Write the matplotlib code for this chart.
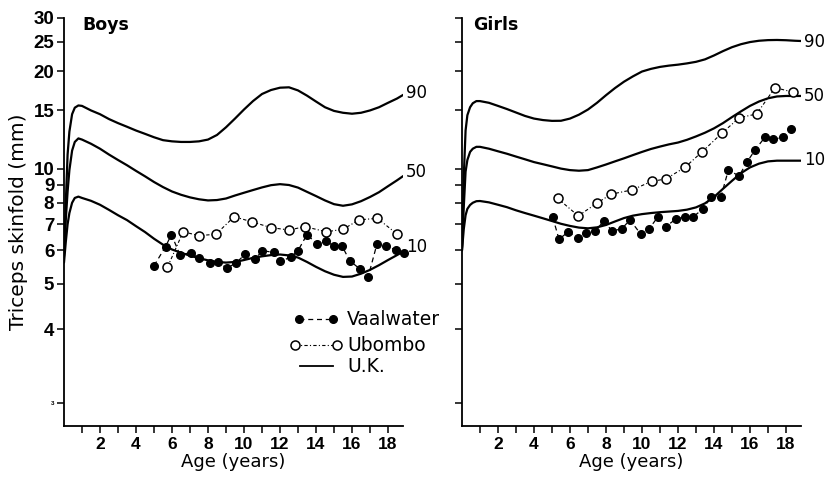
import numpy as np
import matplotlib
matplotlib.use('Agg')
import matplotlib.pyplot as plt
from matplotlib.ticker import NullLocator

# U.K. centile curves
curve_age = [0, 0.1, 0.2, 0.3, 0.45, 0.6, 0.8,
             1.0, 1.5, 2.0, 2.5, 3.0, 3.5, 4.0, 4.5, 5.0, 5.5,
             6.0, 6.5, 7.0, 7.5, 8.0, 8.5, 9.0, 9.5, 10.0, 10.5,
             11.0, 11.5, 12.0, 12.5, 13.0, 13.5, 14.0, 14.5, 15.0, 15.5,
             16.0, 16.5, 17.0, 17.5, 18.0, 18.5, 18.85]

boys_p90 = [5.9, 8.0, 11.0, 12.9, 14.6, 15.3, 15.55,
            15.5, 15.0, 14.6, 14.1, 13.7, 13.35, 13.0, 12.7, 12.4, 12.15,
            12.05, 12.0, 12.0, 12.05, 12.2, 12.6, 13.3, 14.15, 15.1, 16.05,
            16.9, 17.4, 17.7, 17.75, 17.35, 16.7, 16.0, 15.35, 14.95, 14.75,
            14.65, 14.75, 15.0, 15.35, 15.85, 16.35, 16.8]
boys_p50 = [5.8, 7.2, 8.6, 9.9, 11.3, 12.0, 12.3,
            12.2, 11.85, 11.45, 11.0, 10.6, 10.23, 9.85, 9.5, 9.15, 8.85,
            8.6, 8.42, 8.28, 8.18, 8.12, 8.14, 8.22, 8.38, 8.53, 8.68,
            8.83, 8.96, 9.02, 8.97, 8.82, 8.58, 8.35, 8.12, 7.93, 7.85,
            7.92, 8.08, 8.3, 8.56, 8.9, 9.25, 9.52]
boys_p10 = [5.6, 6.3, 7.0, 7.5, 8.0, 8.25, 8.32,
            8.25, 8.1, 7.9, 7.65, 7.4, 7.18, 6.92, 6.68, 6.42, 6.2,
            6.03, 5.92, 5.82, 5.74, 5.67, 5.62, 5.6, 5.62, 5.68, 5.75,
            5.8, 5.84, 5.86, 5.83, 5.76, 5.62, 5.47, 5.34, 5.24, 5.18,
            5.19, 5.27, 5.38, 5.52, 5.68, 5.84, 5.96]

girls_p90 = [6.1, 9.5, 13.0, 14.5, 15.35, 15.8, 16.05,
             16.05, 15.85, 15.5, 15.15, 14.78, 14.42, 14.15, 14.0, 13.92, 13.93,
             14.15, 14.55, 15.1, 15.85, 16.75, 17.65, 18.5, 19.25, 19.95, 20.35,
             20.65, 20.85, 21.0, 21.2, 21.45, 21.85, 22.5, 23.25, 23.95, 24.5,
             24.9, 25.15, 25.27, 25.3, 25.25, 25.15, 25.1]
girls_p50 = [6.0, 7.8, 9.8, 10.6, 11.2, 11.45, 11.6,
             11.6, 11.45, 11.25, 11.06, 10.85, 10.65, 10.45, 10.3, 10.15, 10.0,
             9.9, 9.86, 9.9, 10.08, 10.28, 10.5, 10.72, 10.96, 11.2, 11.43,
             11.62, 11.8, 11.95, 12.18, 12.47, 12.8, 13.2, 13.7, 14.3, 14.9,
             15.5, 16.0, 16.38, 16.6, 16.66, 16.66, 16.66]
girls_p10 = [6.0, 6.8, 7.4, 7.7, 7.89, 8.0, 8.08,
             8.09, 8.02, 7.9, 7.78, 7.63, 7.5, 7.38, 7.26, 7.14, 7.02,
             6.93, 6.86, 6.83, 6.87, 6.97, 7.12, 7.27, 7.38, 7.45, 7.5,
             7.54, 7.57, 7.6, 7.66, 7.77, 7.97, 8.3, 8.75, 9.22, 9.7,
             10.08, 10.34, 10.5, 10.55, 10.55, 10.55, 10.55]

# Survey means
boys_vaal_age = [5.0, 5.64, 5.97, 6.44, 7.03, 7.49, 8.10, 8.53, 9.06, 9.58, 10.08, 10.60,
                 11.02, 11.65, 12.02, 12.60, 13.0, 13.5, 14.08, 14.58, 14.98, 15.45, 15.87,
                 16.43, 16.89, 17.39, 17.91, 18.46, 18.89]
boys_vaal = [5.50, 6.13, 6.58, 5.85, 5.92, 5.74, 5.60, 5.61, 5.43, 5.60, 5.88, 5.70, 5.99,
             5.93, 5.64, 5.77, 5.99, 6.58, 6.21, 6.33, 6.15, 6.15, 5.66, 5.41, 5.17, 6.23,
             6.15, 6.01, 5.90]
boys_ubo_age = [5.75, 6.62, 7.49, 8.44, 9.45, 10.42, 11.49, 12.51, 13.37, 14.58, 15.50,
                16.39, 17.41, 18.52]
boys_ubo = [5.46, 6.69, 6.54, 6.59, 7.33, 7.11, 6.86, 6.76, 6.90, 6.69, 6.79, 7.19, 7.26, 6.59]

girls_vaal_age = [5.04, 5.39, 5.91, 6.43, 6.87, 7.39, 7.91, 8.31, 8.87, 9.33, 9.94, 10.39,
                  10.87, 11.32, 11.87, 12.39, 12.85, 13.41, 13.83, 14.39, 14.80, 15.39, 15.85,
                  16.28, 16.83, 17.30, 17.81, 18.26]
girls_vaal = [7.31, 6.40, 6.69, 6.44, 6.65, 6.72, 7.16, 6.73, 6.80, 7.19, 6.59, 6.80, 7.31,
              6.90, 7.22, 7.33, 7.33, 7.71, 8.32, 8.32, 9.91, 9.52, 10.48, 11.35, 12.40,
              12.22, 12.40, 13.17]
girls_ubo_age = [5.31, 6.46, 7.48, 8.28, 9.46, 10.54, 11.32, 12.39, 13.35, 14.43, 15.41,
                 16.37, 17.39, 18.41]
girls_ubo = [8.23, 7.37, 7.97, 8.45, 8.69, 9.19, 9.33, 10.09, 11.22, 12.75, 14.24, 14.62,
             17.71, 17.12]

yticks = [3, 4, 5, 6, 7, 8, 9, 10, 15, 20, 25, 30]
centile_names = ['90', '50', '10']
boys_label_y = [17.0, 9.78, 6.12]
girls_label_y = [24.9, 16.7, 10.6]

plt.rcParams['font.family'] = 'DejaVu Sans'
TICK_FONT = 'Liberation Sans'


# skinfold axis is logarithmic in (skinfold - 1.8)
def fwd(y):
    return np.log10(np.clip(np.asarray(y, dtype=float) - 1.8, 1e-6, None))


def inv(x):
    return 10 ** np.asarray(x, dtype=float) + 1.8


fig = plt.figure(figsize=(8.3, 4.82), dpi=100)
ax_b = fig.add_axes([0.0771, 0.1168, 0.4088, 0.8465])
ax_g = fig.add_axes([0.5566, 0.1168, 0.4088, 0.8465])


def setup(ax, show_labels):
    ax.set_yscale('function', functions=(fwd, inv))
    ax.set_ylim(2.8, 30)
    ax.set_xlim(0, 18.85)
    for s in ['top', 'right']:
        ax.spines[s].set_visible(False)
    for s in ['left', 'bottom']:
        ax.spines[s].set_linewidth(1.3)
    ax.set_xticks(range(2, 19, 2))
    ax.set_xticks(range(1, 19, 2), minor=True)
    ax.tick_params(axis='x', which='both', direction='out', length=5, width=1.1, pad=3)
    ax.set_xticklabels([str(v) for v in range(2, 19, 2)], fontsize=12.5,
                       fontweight='bold', family=TICK_FONT)
    ax.set_yticks(yticks)
    ax.yaxis.set_minor_locator(NullLocator())
    ax.tick_params(axis='y', direction='out', length=5, width=1.1, pad=2)
    if show_labels:
        ax.set_yticklabels([str(v) for v in yticks], fontsize=13.5, fontweight='bold',
                           family=TICK_FONT)
        ax.get_yticklabels()[0].set_fontsize(4.5)
    else:
        ax.set_yticklabels([])
    ax.set_xlabel('Age (years)', fontsize=13, labelpad=1)


def draw(ax, curves, label_y, vaal_age, vaal, ubo_age, ubo):
    for c in curves:
        ax.plot(curve_age, c, color='black', lw=1.6, solid_joinstyle='round',
                solid_capstyle='round', zorder=2)
    for n, y in zip(centile_names, label_y):
        ax.text(19.0, y, n, fontsize=12, va='center', ha='left')
    ax.plot(ubo_age, ubo, color='black', lw=0.8, ls=(0, (3, 2, 1, 2)),
            marker='o', ms=6.5, mfc='white', mec='black', mew=1.1, zorder=3, clip_on=False)
    ax.plot(vaal_age, vaal, color='black', lw=0.9, ls=(0, (4, 3)),
            marker='o', ms=5.5, mfc='black', mec='black', zorder=4, clip_on=False)


setup(ax_b, True)
setup(ax_g, False)
draw(ax_b, [boys_p90, boys_p50, boys_p10], boys_label_y,
     boys_vaal_age, boys_vaal, boys_ubo_age, boys_ubo)
draw(ax_g, [girls_p90, girls_p50, girls_p10], girls_label_y,
     girls_vaal_age, girls_vaal, girls_ubo_age, girls_ubo)

ax_b.set_ylabel('Triceps skinfold (mm)', fontsize=14.5, labelpad=4)
ax_b.text(0.053, 1.003, 'Boys', transform=ax_b.transAxes, fontsize=12.5,
          fontweight='bold', va='top')
ax_g.text(0.032, 1.003, 'Girls', transform=ax_g.transAxes, fontsize=12.5,
          fontweight='bold', va='top')

# Hand-drawn legend in the boys panel
tr = ax_b.transAxes
ax_b.plot([0.6935, 0.7937], [0.2613, 0.2613], transform=tr, color='black', lw=0.9,
          ls=(0, (4, 3)), marker='o', ms=5.5, mfc='black', mec='black', clip_on=False)
ax_b.plot([0.6821, 0.8054], [0.1972, 0.1972], transform=tr, color='black', lw=0.8,
          ls=(0, (3, 2, 1, 2)), marker='o', ms=6.5, mfc='white', mec='black', mew=1.1,
          clip_on=False)
ax_b.plot([0.695, 0.794], [0.1452, 0.1452], transform=tr, color='black', lw=1.3,
          clip_on=False)
for y, t in zip([0.2613, 0.1972, 0.1452], ['Vaalwater', 'Ubombo', 'U.K.']):
    ax_b.text(0.835, y, t, transform=tr, fontsize=13.5, va='center', ha='left')

fig.savefig('out.png', dpi=100)
